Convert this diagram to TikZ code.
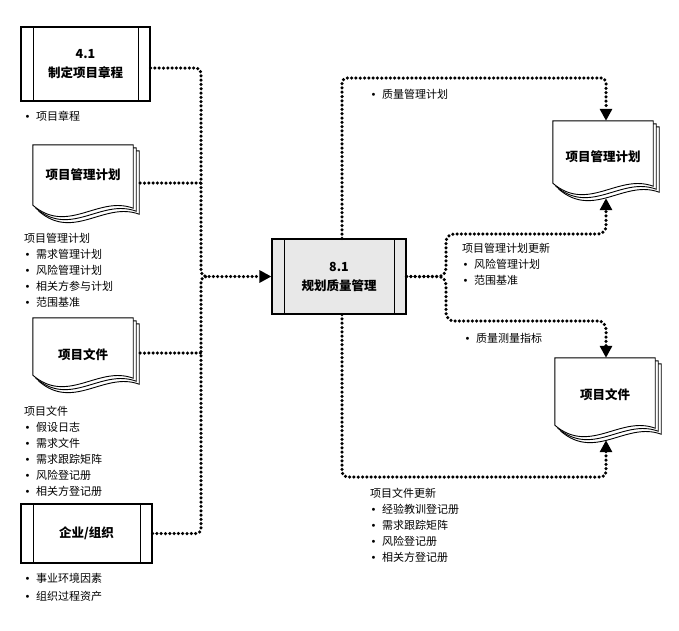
\documentclass[tikz,border=0pt]{standalone}
\usepackage{fontspec}
\setmainfont{Noto Sans CJK SC}
\newfontfamily\symfont{DejaVu Sans}
\usetikzlibrary{arrows.meta,backgrounds}

\newcommand\itm{\makebox[12pt][l]{\hspace{0.5pt}{\symfont\fontsize{10}{10}\selectfont •}}}

% stacked pages with a wavy lower edge, drawn round a doc node
\newcommand\docpages[1]{%
  \begin{scope}[on background layer]
    \foreach \sh in {6,3,0}
      \draw[line width=0.9pt, fill=white] ([shift={(\sh,\sh)}]#1.north west) -- ([shift={(\sh,\sh)}]#1.north east)
        -- ([shift={(\sh,\sh+3)}]#1.south east) .. controls +(-35,-13) and +(35,30) .. ([shift={(\sh,\sh)}]#1.south west) -- cycle;
  \end{scope}}

\tikzset{
  procbox/.style={draw, line width=1.2pt, inner sep=0pt, align=center,
    font=\fontsize{12.5}{19}\selectfont\bfseries,
    path picture={
      \draw[line width=0.6pt] ([xshift=12pt]path picture bounding box.north west) -- ([xshift=12pt]path picture bounding box.south west);
      \draw[line width=0.6pt] ([xshift=-12pt]path picture bounding box.north east) -- ([xshift=-12pt]path picture bounding box.south east);}},
  docnode/.style={minimum width=100pt, inner sep=0pt, font=\fontsize{12.5}{15}\selectfont\bfseries},
  listtext/.style={anchor=north west, inner sep=0pt, align=left, font=\fontsize{11}{16}\selectfont},
  flow/.style={line width=3.5pt, dash pattern=on 0pt off 4.3pt, line cap=round, rounded corners=5pt},
  flowarrow/.style={-{Triangle[length=12pt,width=12pt]}}
}

\begin{document}
\begin{tikzpicture}[x=1pt, y=-1pt]
  \useasboundingbox (0,0) rectangle (679,630);

  % inputs
  \node[procbox, minimum width=129pt, minimum height=74pt] (charter) at (85.5,64) {4.1\\制定项目章程};
  \node[docnode, minimum height=60pt] (pmpL) at (83,175) {项目管理计划};
  \docpages{pmpL}
  \node[docnode, minimum height=57pt, text height=27pt] (docsL) at (83,346.5) {项目文件};
  \docpages{docsL}
  \node[procbox, minimum width=131pt, minimum height=59pt] (org) at (86.5,533.5) {企业/组织};

  \node[listtext] (charterList) at (24,111) {\itm 项目章程};
  \node[listtext] (pmpList) at (24,233) {项目管理计划\\\itm 需求管理计划\\\itm 风险管理计划\\\itm 相关方参与计划\\\itm 范围基准};
  \node[listtext] (docsList) at (24,406) {项目文件\\\itm 假设日志\\\itm 需求文件\\\itm 需求跟踪矩阵\\\itm 风险登记册\\\itm 相关方登记册};
  \node[listtext, font=\fontsize{11}{17.5}\selectfont] (orgList) at (24,573) {\itm 事业环境因素\\\itm 组织过程资产};

  % process
  \node[procbox, fill=gray!18, minimum width=134pt, minimum height=75pt] (plan) at (339,276.5) {8.1\\规划质量管理};

  % outputs
  \node[docnode, minimum height=62pt, text height=21pt] (pmpR) at (603,152) {项目管理计划};
  \docpages{pmpR}
  \node[docnode, minimum height=67pt, text height=17pt] (docsR) at (605,391.5) {项目文件};
  \docpages{docsR}

  \node[listtext] (qmpList) at (370,89) {\itm 质量管理计划};
  \node[listtext] (pmpUpd) at (462,243) {项目管理计划更新\\\itm 风险管理计划\\\itm 范围基准};
  \node[listtext] (metricList) at (464,333) {\itm 质量测量指标};
  \node[listtext] (docsUpd) at (370,488) {项目文件更新\\\itm 经验教训登记册\\\itm 需求跟踪矩阵\\\itm 风险登记册\\\itm 相关方登记册};

  % flows in
  \draw[flow, flowarrow] ([yshift=-4pt]charter.east) -- (201,68) |- (plan.west);
  \draw[flow] ([xshift=7pt,yshift=-8pt]pmpL.east) -- (201,183);
  \draw[flow] ([xshift=7pt,yshift=-6.5pt]docsL.east) -- (201,353);
  \draw[flow] (org.east) -- (201,533.5) -- (201,276.5) -- (208,276.5);

  % flows out
  \draw[flow, flowarrow] ([xshift=3pt]plan.north) -- (342,78) -- (606,78) -- ([xshift=3pt]pmpR.north);
  \draw[flow, flowarrow, rounded corners=8pt] (plan.east) -- (446,276.5) -- (446,234) -- (606,234) -- ([xshift=3pt,yshift=-15pt]pmpR.south);
  \draw[flow, flowarrow, rounded corners=8pt] (plan.east) -- (446,276.5) -- (446,321) -- (606,321) -- ([xshift=1pt]docsR.north);
  \draw[flow, flowarrow] ([xshift=3pt]plan.south) -- (342,477) -- (606,477) -- ([xshift=1pt,yshift=-15pt]docsR.south);
\end{tikzpicture}
\end{document}
